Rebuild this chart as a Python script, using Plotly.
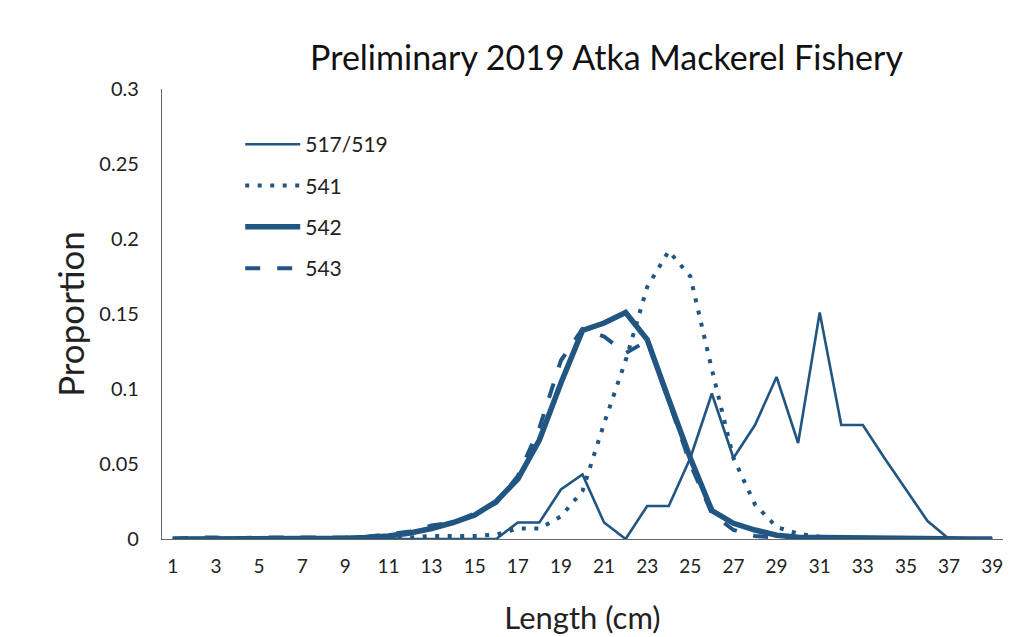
import plotly.graph_objects as go

# Length classes (cm)
lengths = list(range(1, 40))

s517_519 = [0, 0, 0, 0, 0, 0, 0, 0, 0, 0,
            0, 0, 0, 0, 0, 0, 0.011, 0.011, 0.033, 0.043,
            0.011, 0, 0.022, 0.022, 0.054, 0.097, 0.054, 0.076, 0.108, 0.064,
            0.151, 0.076, 0.076, 0.054, 0.033, 0.012, 0, 0, 0]

s541 = [0, 0, 0, 0, 0, 0, 0, 0, 0, 0,
        0, 0.001, 0.002, 0.002, 0.002, 0.003, 0.007, 0.007, 0.015, 0.032,
        0.077, 0.119, 0.168, 0.192, 0.175, 0.113, 0.054, 0.023, 0.008, 0.0035,
        0.0015, 0.0005, 0, 0, 0, 0, 0, 0, 0]

s542 = [0, 0, 0, 0, 0, 0, 0, 0, 0.0005, 0.001,
        0.002, 0.004, 0.007, 0.011, 0.016, 0.025, 0.040, 0.066, 0.104, 0.139,
        0.144, 0.151, 0.133, 0.093, 0.054, 0.019, 0.0105, 0.006, 0.0025, 0.0012,
        0.001, 0.0008, 0.0003, 0, 0, 0, 0, 0, 0]

s543 = [0, 0.001, 0.001, 0.0005, 0.001, 0.001, 0.0005, 0.0005, 0.001, 0.0015,
        0.003, 0.005, 0.009, 0.011, 0.017, 0.024, 0.042, 0.074, 0.119, 0.140,
        0.135, 0.124, 0.132, 0.092, 0.050, 0.017, 0.006, 0.002, 0.001, 0.0005,
        0.001, 0.0005, 0, 0, 0, 0, 0, 0, 0]

x_ticks = list(range(1, 40, 2))
y_ticks = [0, 0.05, 0.1, 0.15, 0.2, 0.25, 0.3]
y_labels = ["0", "0.05", "0.1", "0.15", "0.2", "0.25", "0.3"]

BLUE = "#215582"
FONT = "Lato"

series = [
    ("517/519", s517_519, dict(width=2.6, dash="solid")),
    ("541", s541, dict(width=4, dash="4px,8.5px")),
    ("542", s542, dict(width=5.5, dash="solid")),
    ("543", s543, dict(width=4, dash="15px,17px")),
]

fig = go.Figure()
for i, (name, vals, style) in enumerate(series):
    fig.add_trace(go.Scatter(
        x=lengths,
        y=vals,
        name=name,
        mode="lines",
        legendgroup=f"g{i}",
        line=dict(color=BLUE, **style),
    ))

# the page body adds 8px, margins are reduced to compensate
fig.update_layout(
    width=1017,
    height=637,
    paper_bgcolor="white",
    plot_bgcolor="white",
    margin=dict(l=154, r=22, t=81, b=106),
    font=dict(family=FONT, color="#222222"),
    title=dict(
        text="Preliminary 2019 Atka Mackerel Fishery",
        x=0.5286, xref="paper", xanchor="center",
        y=1 - 50 / 637, yanchor="middle",
        font=dict(size=34, color="#111111"),
    ),
    showlegend=True,
    legend=dict(
        x=0.093, y=0.922, xanchor="left", yanchor="top",
        bgcolor="rgba(0,0,0,0)",
        font=dict(size=21, color="#222222"),
        tracegroupgap=11,
        itemwidth=55,
    ),
    xaxis=dict(
        range=[0.5, 39.5],
        tickmode="array",
        tickvals=x_ticks,
        ticktext=[str(v) for v in x_ticks],
        showgrid=False,
        zeroline=False,
        showline=True,
        linecolor="#666666",
        linewidth=1.2,
        ticks="",
        ticklabelstandoff=10,
        tickfont=dict(size=19),
        title=dict(text="Length (cm)", font=dict(size=31), standoff=31),
    ),
    yaxis=dict(
        range=[0, 0.3],
        tickmode="array",
        tickvals=y_ticks,
        ticktext=y_labels,
        showgrid=False,
        zeroline=False,
        showline=True,
        linecolor="#666666",
        linewidth=1.2,
        ticks="",
        ticklabelstandoff=18,
        tickfont=dict(size=20),
        title=dict(text="Proportion", font=dict(size=35), standoff=4),
    ),
)

fig.write_html("out.html")
